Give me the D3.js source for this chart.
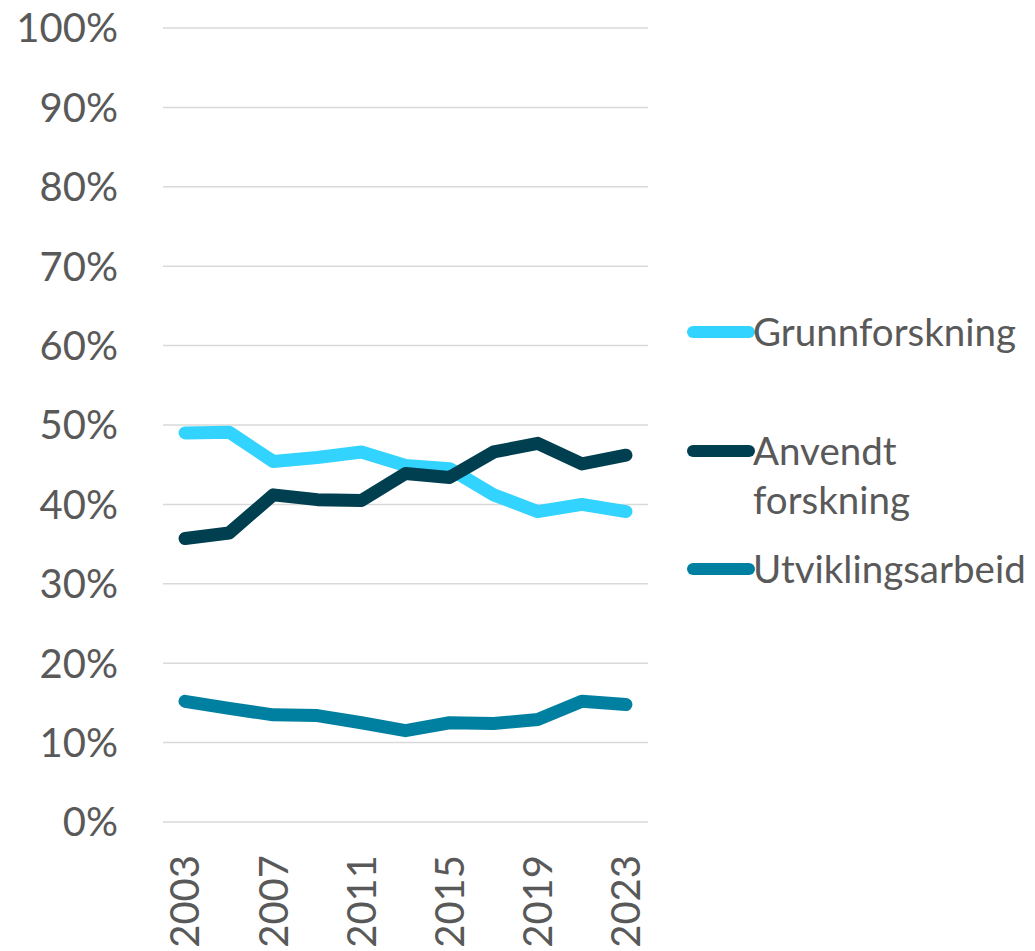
<!DOCTYPE html>
<html lang="no">
<head>
<meta charset="UTF-8">
<title>Forskningstype</title>
<style>
  body { margin: 0; background: #fff; }
  svg text { font-family: Lato, "Liberation Sans", sans-serif; fill: #595959; }
</style>
</head>
<body>
<div id="chart"></div>
<script src="https://d3js.org/d3.v7.min.js"></script>
<script>
// years on the x axis (every other one gets a label)
const years = [2003, 2005, 2007, 2009, 2011, 2013, 2015, 2017, 2019, 2021, 2023];
const grunnforskning = [49.0, 49.1, 45.4, 45.9, 46.6, 44.9, 44.5, 41.2, 39.1, 40.0, 39.1];
const anvendt = [35.7, 36.4, 41.2, 40.6, 40.5, 43.9, 43.4, 46.6, 47.7, 45.1, 46.2];
const utvikling = [15.2, 14.3, 13.5, 13.4, 12.5, 11.5, 12.5, 12.4, 12.9, 15.2, 14.8];
const yTicks = [0, 10, 20, 30, 40, 50, 60, 70, 80, 90, 100];

const series = [
  { name: ["Grunnforskning"], values: grunnforskning, color: "#33d3ff" },
  { name: ["Anvendt", "forskning"], values: anvendt, color: "#003f50" },
  { name: ["Utviklingsarbeid"], values: utvikling, color: "#0080a1" }
];

const W = 1035, H = 951;
const plotLeft = 163, plotRight = 648, plotTop = 28, plotBottom = 822;

const svg = d3.select("#chart").append("svg")
  .attr("width", W).attr("height", H);

const x = d3.scalePoint().domain(years).range([plotLeft, plotRight]).padding(0.5);
const y = d3.scaleLinear().domain([0, 100]).range([plotBottom, plotTop]);

// gridlines
svg.append("g")
  .selectAll("line")
  .data(yTicks)
  .enter().append("line")
  .attr("x1", plotLeft).attr("x2", plotRight)
  .attr("y1", d => y(d)).attr("y2", d => y(d))
  .attr("stroke", "#d9d9d9").attr("stroke-width", 1.5);

// y labels
svg.append("g")
  .selectAll("text")
  .data(yTicks)
  .enter().append("text")
  .attr("x", 118)
  .attr("y", d => y(d))
  .attr("dy", "0.36em")
  .attr("text-anchor", "end")
  .attr("font-size", 40)
  .text(d => d + "%");

// x labels, rotated
svg.append("g")
  .selectAll("text")
  .data(years.filter((d, i) => i % 2 === 0))
  .enter().append("text")
  .attr("transform", d => `translate(${x(d)},855) rotate(-90)`)
  .attr("dy", "0.36em")
  .attr("text-anchor", "end")
  .attr("font-size", 40)
  .text(d => d);

// lines
const line = d3.line()
  .x((d, i) => x(years[i]))
  .y(d => y(d));

svg.append("g")
  .selectAll("path")
  .data(series)
  .enter().append("path")
  .attr("d", d => line(d.values))
  .attr("fill", "none")
  .attr("stroke", d => d.color)
  .attr("stroke-width", 13)
  .attr("stroke-linecap", "round")
  .attr("stroke-linejoin", "round");

// legend
const legendY = [332, 451, 569];
const lg = svg.append("g").selectAll("g")
  .data(series)
  .enter().append("g")
  .attr("transform", (d, i) => `translate(0,${legendY[i]})`);

lg.append("line")
  .attr("x1", 693).attr("x2", 749)
  .attr("stroke", d => d.color)
  .attr("stroke-width", 12)
  .attr("stroke-linecap", "round");

lg.append("text")
  .attr("x", 753)
  .attr("font-size", 38.5)
  .selectAll("tspan")
  .data(d => d.name)
  .enter().append("tspan")
  .attr("x", 753)
  .attr("dy", (d, i) => i === 0 ? "0.36em" : 49)
  .text(d => d);
</script>
</body>
</html>
